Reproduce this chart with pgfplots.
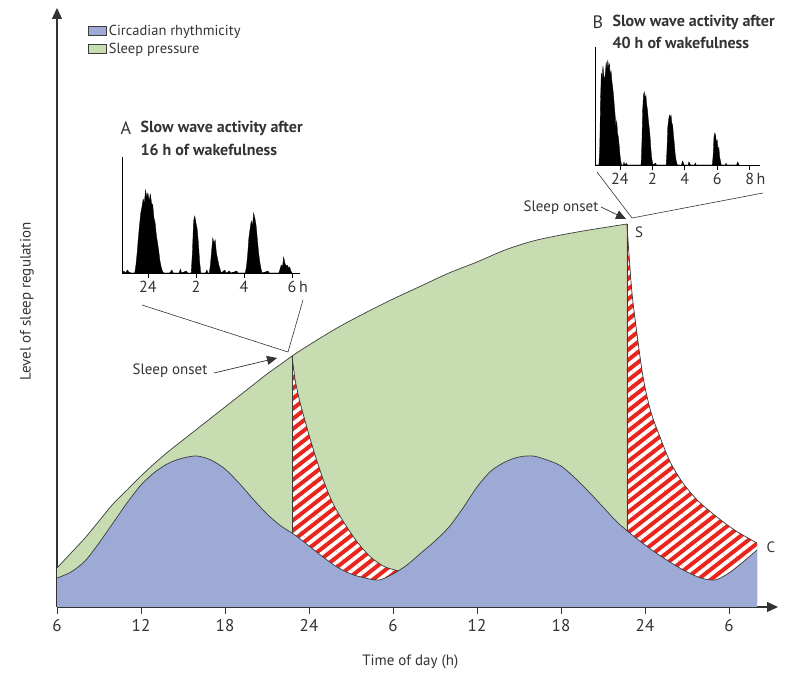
\documentclass[border=0pt]{standalone}
\usepackage{fontspec}
\setmainfont{PT Sans}
\usepackage{pgfplots}
\usepackage{pgfplotstable}
\pgfplotsset{compat=1.18}
\usetikzlibrary{arrows.meta,patterns.meta}
\definecolor{circc}{HTML}{9DAAD6}
\definecolor{sleepp}{HTML}{C7DDB1}
\definecolor{stripe}{HTML}{E8261E}
\definecolor{outl}{HTML}{3C3C3C}
\definecolor{txt}{HTML}{333333}
\newcommand\fs[1]{\fontsize{#1}{#1}\selectfont}

\pgfplotstableread{
x y
6 25
7 31
8 42
9 60
10 80
11 100
12 118
13 131
14 140
15 145
16 147
17 143
18 134
19 120
20 104
21 89
22 77
23 68
24 57
25 46
26 36
27 29
28 25
29 23
30 29
31 38
32 50
33 62
34 76
35 95
36 116
37 132
38 141
39 146
40 147
41 143
42 137
43 125
44 111
45 96
46 81
47 69
48 58
49 48
50 39
51 31
52 25
53 23
54 30
55 41
56 53
}\circtable

\pgfplotstableread{
x y
6 35
7 50
8 65
9 82
10 99
11 113
12 127
13 140
14 152
15 163
16 174
17 185
18 196
19 207
20 218
21 229
22 239
23 249
24 258
26 275
28 290
30 304
32 317
34 330
36 341
38 353
40 362
42 368
44 373
46.71 379
}\sptable

\pgfplotstableread{
x y
22.79 247
23.0 224
23.3 204
23.6 188
24.0 168
24.5 145
25.0 124
25.5 106
26.0 92
26.7 76
27.5 60
28.4 46
29.3 37
30.0 33.5
30.35 32.2
}\decA

\pgfplotstableread{
x y
46.71 379
46.85 350
47.07 310
47.4 272
47.86 226
48.4 192
49.07 166
49.8 141
50.71 120
51.8 102
53.14 86
54.5 72
56 60
}\decB

\begin{document}
\begin{tikzpicture}
\useasboundingbox (0pt,0pt) rectangle (789pt,673pt);
\begin{axis}[
  at={(57pt,66pt)}, anchor=south west, scale only axis,
  width=721pt, height=599pt,
  xmin=6, xmax=57.5, ymin=-4, ymax=595,
  axis x line=bottom, axis y line=left,
  axis line style={draw=txt, line width=1.3pt},
  x axis line style={-{Triangle[width=10pt,length=11pt]}},
  y axis line style={-{Triangle[width=10pt,length=11pt]}},
  xtick={6,12,18,24,30,36,42,48,54},
  xticklabels={6,12,18,24,6,12,18,24,6},
  ytick=\empty,
  tick align=outside, major tick length=7pt,
  x tick style={draw=txt, line width=0.9pt},
  xticklabel style={font=\fs{17}, text=txt, yshift=-2pt},
  /pgf/number format/assume math mode=true,
  xlabel={Time of day (h)}, ylabel={Level of sleep regulation},
  xlabel style={at={(axis description cs:0.49,-0.092)}, anchor=center, font=\fs{15}, text=txt},
  ylabel style={at={(axis description cs:-0.0416,0.51)}, anchor=center, font=\fs{15}, text=txt},
  legend style={at={(axis description cs:0.043,0.975)}, anchor=north west, draw=none, fill=none,
    font=\fs{14.5}, text=txt, row sep=2pt, inner sep=0pt, cells={anchor=west}},
  legend image code/.code={\draw[#1, draw=outl, line width=0.6pt] (0pt,-4.5pt) rectangle (18pt,4.5pt);},
]
\addlegendimage{fill=circc}
\addlegendentry{Circadian rhythmicity}
\addlegendimage{fill=sleepp}
\addlegendentry{Sleep pressure}

% sleep pressure area (below upper curve), later covered by circadian area
\addplot[fill=sleepp, draw=none, smooth, forget plot] table {\sptable} \closedcycle;
% striped recovery areas
\addplot[fill=stripe, draw=none, smooth, forget plot] table {\decA} \closedcycle;
\addplot[pattern={Lines[angle=38,distance=8pt,line width=3.7pt]}, pattern color=white, draw=none, smooth, forget plot] table {\decA} \closedcycle;
\addplot[fill=stripe, draw=none, smooth, forget plot] table {\decB} \closedcycle;
\addplot[pattern={Lines[angle=38,distance=8pt,line width=3.7pt]}, pattern color=white, draw=none, smooth, forget plot] table {\decB} \closedcycle;
% circadian area on top
\addplot[fill=circc, draw=none, smooth, forget plot] table {\circtable} \closedcycle;
\addplot[fill=circc, draw=none, forget plot] coordinates {(6,-4) (56,-4)} \closedcycle;

\addplot[draw=outl, line width=0.7pt, smooth, forget plot] table {\circtable};
\addplot[draw=outl, line width=0.7pt, smooth, forget plot] table {\sptable};
\addplot[draw=outl, line width=0.7pt, smooth, forget plot] table {\decA};
\addplot[draw=outl, line width=0.7pt, smooth, forget plot] table {\decB};
\addplot[draw=outl, line width=0.7pt, forget plot] coordinates {(22.79,70) (22.79,247)};
\addplot[draw=outl, line width=0.7pt, forget plot] coordinates {(46.71,72.5) (46.71,379)};
\end{axis}

% Inset A
\begin{axis}[
  at={(122pt,400pt)}, anchor=south west, scale only axis,
  width=178pt, height=116pt,
  xmin=22.92, xmax=30.33, ymin=0, ymax=116,
  axis x line=bottom, axis y line=left,
  axis line style={draw=black, line width=0.8pt, -},
  xtick={24,26,28,30}, xticklabels={24,2,4,6\rlap{\,h}},
  ytick=\empty, tick align=outside, major tick length=5pt,
  x tick style={draw=black, line width=0.7pt},
  xticklabel style={font=\fs{16}, text=txt},
  /pgf/number format/assume math mode=true,
  clip=false,
]
\addplot[fill=black, draw=black, line width=0.3pt] coordinates {
(22.92,0) (23.0,2) (23.05,0) (23.15,3) (23.2,1) (23.3,0)
(23.45,0) (23.5,8) (23.55,20) (23.6,35) (23.65,48) (23.7,60) (23.75,66) (23.8,74) (23.85,70) (23.9,83) (23.95,76) (24.0,80) (24.05,72) (24.1,79) (24.15,70) (24.2,68) (24.25,55) (24.3,50) (24.35,38) (24.4,30) (24.45,22) (24.5,12) (24.55,6) (24.6,2) (24.65,0)
(24.9,0) (25.0,3) (25.05,0) (25.3,0) (25.35,4) (25.4,0) (25.6,2) (25.65,0)
(25.8,0) (25.85,20) (25.9,52) (25.95,57) (26.0,50) (26.05,44) (26.1,30) (26.15,12) (26.2,0)
(26.4,0) (26.45,3) (26.5,0)
(26.55,0) (26.6,8) (26.65,22) (26.7,35) (26.75,30) (26.8,33) (26.85,20) (26.9,14) (26.95,8) (27.0,4) (27.05,0)
(27.2,3) (27.25,0) (27.4,2) (27.45,0) (27.7,2) (27.75,0)
(28.05,0) (28.1,6) (28.15,18) (28.2,35) (28.25,44) (28.3,52) (28.35,47) (28.4,60) (28.45,55) (28.5,48) (28.55,35) (28.6,22) (28.65,12) (28.7,5) (28.75,0)
(29.0,2) (29.05,0)
(29.45,0) (29.5,4) (29.55,8) (29.6,6) (29.65,16) (29.7,10) (29.75,7) (29.8,8) (29.85,5) (29.9,6) (29.95,2) (30.0,0)
} \closedcycle;
\end{axis}

% Inset B
\begin{axis}[
  at={(595pt,508pt)}, anchor=south west, scale only axis,
  width=165pt, height=118pt,
  xmin=22.46, xmax=32.64, ymin=0, ymax=118,
  axis x line=bottom, axis y line=left,
  axis line style={draw=black, line width=0.8pt, -},
  xtick={24,26,28,30,32}, xticklabels={24,2,4,6,8\rlap{\,h}},
  ytick=\empty, tick align=outside, major tick length=5pt,
  x tick style={draw=black, line width=0.7pt},
  xticklabel style={font=\fs{16}, text=txt},
  /pgf/number format/assume math mode=true,
  clip=false,
]
\addplot[fill=black, draw=black, line width=0.3pt] coordinates {
(22.46,0) (22.7,0) (22.75,15) (22.8,65) (22.85,92) (22.9,86) (22.95,99) (23.0,90) (23.05,84) (23.1,92) (23.15,103) (23.2,95) (23.25,105) (23.3,97) (23.35,101) (23.4,90) (23.45,94) (23.5,84) (23.55,78) (23.6,70) (23.65,60) (23.7,50) (23.75,38) (23.8,44) (23.85,32) (23.9,28) (23.95,20) (24.0,10) (24.05,4) (24.1,0)
(24.2,0) (24.25,3) (24.3,0) (24.4,2) (24.45,0)
(25.3,0) (25.35,20) (25.4,55) (25.45,70) (25.5,73) (25.55,66) (25.6,70) (25.65,60) (25.7,55) (25.75,45) (25.8,38) (25.85,30) (25.9,18) (25.95,8) (26.0,3) (26.05,0)
(26.2,2) (26.25,0)
(26.85,0) (26.9,15) (26.95,38) (27.0,45) (27.05,50) (27.1,47) (27.15,50) (27.2,42) (27.25,40) (27.3,30) (27.35,22) (27.4,12) (27.45,6) (27.5,2) (27.55,0)
(27.8,0) (27.85,4) (27.9,3) (27.95,0) (28.2,0) (28.25,3) (28.3,2) (28.35,0) (28.6,0) (28.65,2) (28.7,0)
(29.7,0) (29.75,10) (29.8,28) (29.85,32) (29.9,30) (29.95,22) (30.0,25) (30.05,14) (30.1,18) (30.15,8) (30.2,4) (30.25,0)
(30.5,0) (30.55,2) (30.6,0) (31.2,0) (31.25,3) (31.3,2) (31.35,0)
} \closedcycle;
\end{axis}

% Titles of insets
\node[anchor=west, text=txt, font=\fs{18}] at (117pt,545pt) {A};
\node[anchor=west, text=txt, font=\fs{16}\bfseries] at (137pt,545pt) {Slow wave activity after};
\node[anchor=west, text=txt, font=\fs{16}\bfseries] at (137pt,523pt) {16 h of wakefulness};
\node[anchor=west, text=txt, font=\fs{18}] at (589pt,651pt) {B};
\node[anchor=west, text=txt, font=\fs{16}\bfseries] at (609pt,651pt) {Slow wave activity after};
\node[anchor=west, text=txt, font=\fs{16}\bfseries] at (609pt,630pt) {40 h of wakefulness};

% Connectors
\draw[txt, line width=0.6pt] (142pt,368pt) -- (288pt,321pt) -- (303pt,373pt);
\draw[txt, line width=0.6pt] (597pt,501pt) -- (632pt,455pt) -- (763pt,480pt);

% Sleep onset
\node[text=txt, font=\fs{15}] at (170pt,302pt) {Sleep onset};
\draw[txt, line width=0.7pt, -{Triangle[width=9pt,length=10pt]}] (214pt,300pt) -- (277pt,315pt);
\node[text=txt, font=\fs{15}] at (561pt,465pt) {Sleep onset};
\draw[txt, line width=0.7pt, -{Triangle[width=9pt,length=10pt]}] (601pt,466pt) -- (626pt,454pt);

\node[text=txt, font=\fs{15}] at (639pt,441pt) {S};
\node[text=txt, font=\fs{15}] at (771pt,126pt) {C};
\end{tikzpicture}
\end{document}
